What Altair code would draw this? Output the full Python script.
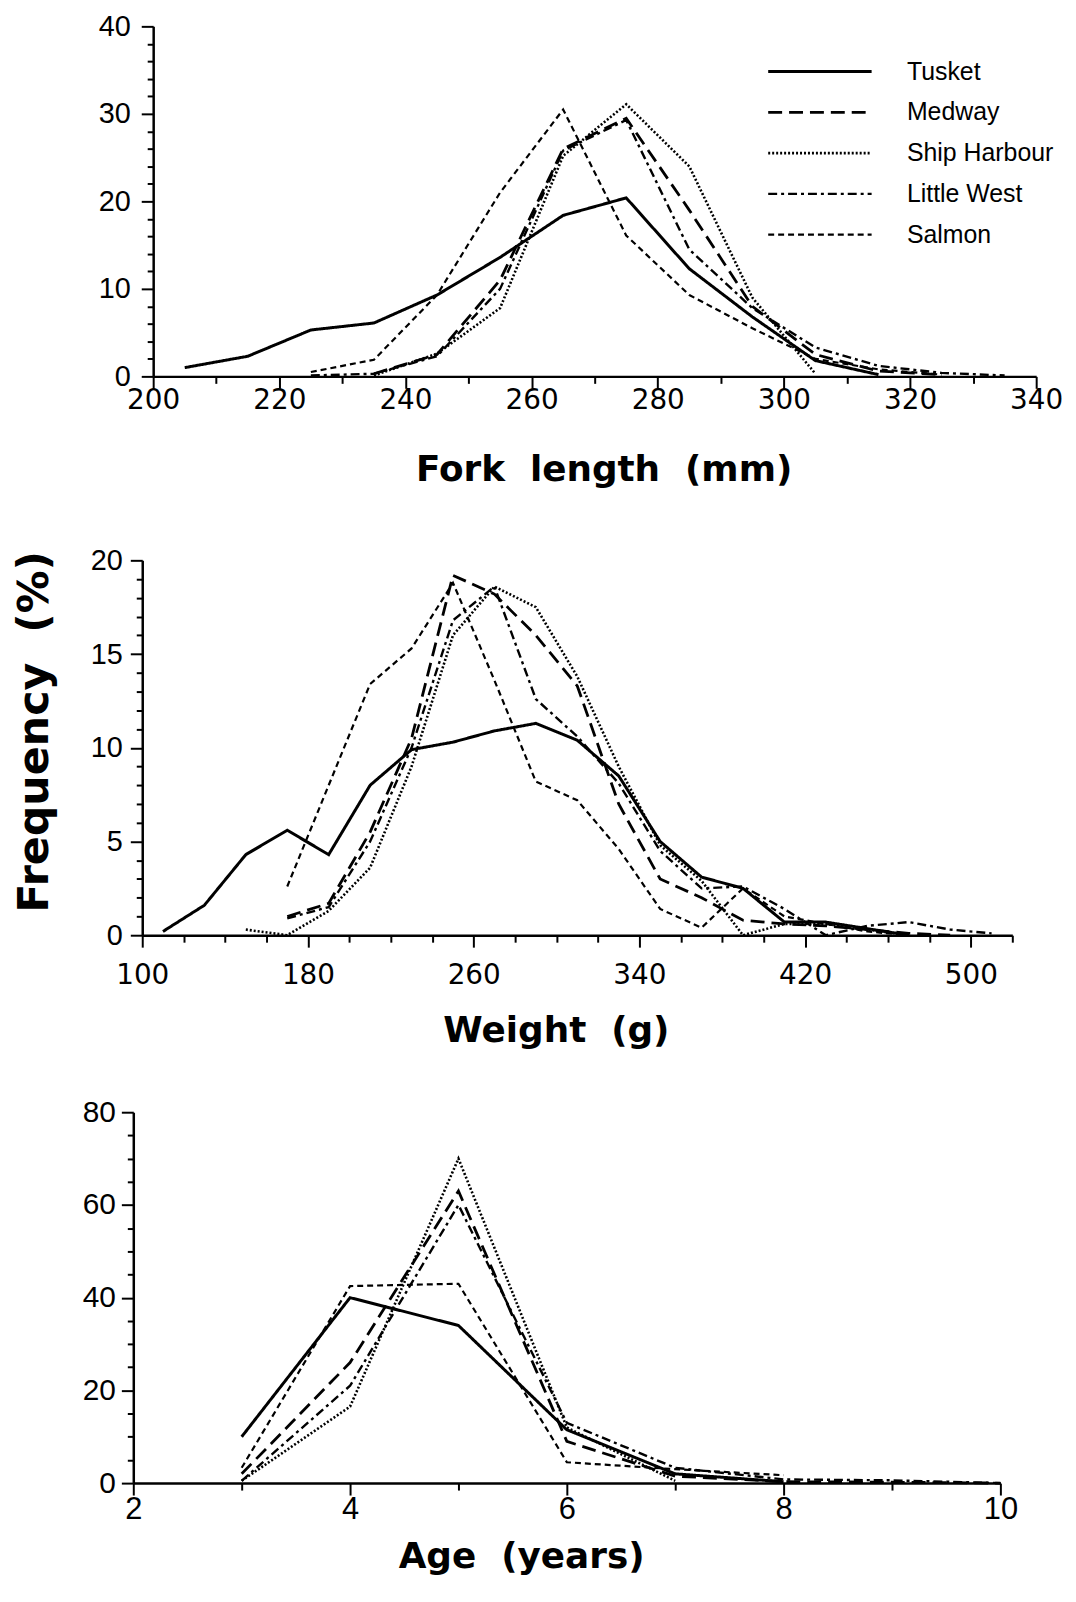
import altair as alt
import pandas as pd

rivers = ["Tusket", "Medway", "Ship Harbour", "Little West", "Salmon"]

# ---- Fork length (mm) ----
fl_bins = [205, 215, 225, 235, 245, 255, 265, 275, 285, 295, 305, 315, 325, 335]
fl_tusket = [1.0, 2.3, 5.3, 6.1, 9.3, 13.6, 18.4, 20.4, 12.3, 6.8, 1.8, 0.2, None, None]
fl_medway = [None, None, None, 0.3, 2.5, 11.0, 26.0, 29.5, 19.0, 8.0, 2.5, 0.6, 0.2, None]
fl_ship = [None, None, None, 0.1, 2.6, 7.8, 25.2, 31.1, 24.0, 9.0, 0.3, None, None, None]
fl_little = [None, None, 0.1, 0.3, 2.3, 10.0, 25.8, 29.3, 14.5, 7.8, 3.3, 1.2, 0.4, 0.1]
fl_salmon = [None, None, 0.5, 1.9, 9.3, 21.0, 30.5, 16.1, 9.3, 5.5, 2.0, 0.8, 0.2, None]

# ---- Weight (g) ----
w_bins = [110, 130, 150, 170, 190, 210, 230, 250, 270, 290, 310,
          330, 350, 370, 390, 410, 430, 450, 470, 490, 510]
w_tusket = [0.2, 1.6, 4.3, 5.6, 4.3, 8.0, 9.9, 10.3, 10.9, 11.3, 10.4,
            8.5, 5.0, 3.1, 2.5, 0.7, 0.7, 0.35, 0.0, None, None]
w_medway = [None, None, None, 1.0, 1.7, 5.5, 10.5, 19.2, 18.2, 16.0, 13.3,
            7.0, 3.0, 2.0, 0.8, 0.6, 0.5, 0.3, 0.1, 0.0, None]
w_ship = [None, None, 0.3, 0.0, 1.3, 3.6, 9.0, 16.0, 18.6, 17.5, 13.8,
          9.0, 4.8, 2.9, 0.0, 0.6, 0.6, 0.3, 0.0, None, None]
w_little = [None, None, None, 0.9, 1.5, 5.0, 10.0, 16.8, 18.6, 12.6, 10.6,
            8.1, 4.5, 2.5, 2.6, 1.4, 0.0, 0.5, 0.7, 0.3, 0.1]
w_salmon = [None, None, None, 2.6, 8.0, 13.4, 15.3, 18.8, 13.6, 8.2, 7.2,
            4.6, 1.4, 0.4, 2.5, 1.0, 0.6, 0.2, 0.0, None, None]

# ---- Age (years) ----
age_bins = [3, 4, 5, 6, 7, 8, 9, 10]
a_tusket = [10.0, 40.0, 34.0, 11.5, 2.0, 0.3, None, None]
a_medway = [2.0, 26.0, 63.0, 9.0, 1.5, 0.3, 0.2, 0.0]
a_ship = [0.5, 16.5, 70.0, 12.0, 0.5, None, None, None]
a_little = [0.5, 21.0, 60.0, 13.0, 3.3, 0.8, 0.6, 0.0]
a_salmon = [3.3, 42.5, 43.0, 4.5, 3.0, 1.7, None, None]

fl_ticks = list(range(200, 341, 10))
fl_yticks = list(range(0, 41, 2))
w_ticks = list(range(100, 521, 20))
w_yticks = list(range(0, 21, 1))
a_ticks = list(range(2, 11, 1))
a_yticks = list(range(0, 81, 5))

dash_range = [[1, 0], [14, 7], [2, 2], [9, 4, 3, 4], [6, 4]]
width_range = [3.0, 2.2, 1.6, 2.2, 2.4]


def long_df(bins, series):
    rows = []
    for river, vals in zip(rivers, series):
        for b, v in zip(bins, vals):
            if v is not None:
                rows.append({"bin": b, "freq": v, "river": river})
    return pd.DataFrame(rows)


def xaxis(values, major_test, title, tx, ty, font="DejaVu Sans", size=28, pad=14):
    return alt.Axis(
        values=values,
        labelExpr=f"({major_test}) ? datum.label : ''",
        tickSize={"condition": {"test": major_test, "value": 12}, "value": 7},
        labelFont=font, labelFontSize=size, labelPadding=pad,
        labelFlush=False, labelOverlap=False,
        domainWidth=2.5, tickWidth=2,
        title=title, titleFont="DejaVu Sans", titleFontWeight="bold",
        titleFontSize=36, titleBaseline="alphabetic", titleX=tx, titleY=ty,
    )


def yaxis(values, major_test, offset, title=None, size=29, pad=8, ty=0):
    if title is not None:
        kw = dict(title=title, titleFont="DejaVu Sans", titleFontWeight="bold",
                  titleFontSize=43, titleBaseline="alphabetic", titleX=-95,
                  titleY=ty)
    else:
        kw = dict(title=None)
    return alt.Axis(
        values=values, offset=offset,
        labelExpr=f"({major_test}) ? datum.label : ''",
        tickSize={"condition": {"test": major_test, "value": 12}, "value": 6},
        labelFont="Liberation Sans", labelFontSize=size, labelPadding=pad,
        labelOverlap=False, labelFlush=False,
        domainWidth=2.5, tickWidth=2, **kw,
    )


legend = alt.Legend(
    title=None, orient="none", legendX=678, legendY=33,
    symbolType="M-5.2,0H5.2", symbolSize=400, symbolStrokeColor="black",
    symbolFillColor="transparent", labelFont="Liberation Sans",
    labelFontSize=25, labelColor="black", labelOffset=75, rowPadding=15,
)

VIEW_W = 908


def panel(df, xax, yax, xdom, ydom, xrange, h, yrange, leg=None):
    return alt.Chart(df).mark_line(color="black").encode(
        x=alt.X("bin:Q", scale=alt.Scale(domain=xdom, range=xrange, nice=False, zero=False), axis=xax),
        y=alt.Y("freq:Q", scale=alt.Scale(domain=ydom, range=yrange, nice=False), axis=yax),
        strokeDash=alt.StrokeDash("river:N", scale=alt.Scale(domain=rivers, range=dash_range), legend=leg),
        strokeWidth=alt.StrokeWidth("river:N", scale=alt.Scale(domain=rivers, range=width_range), legend=leg),
    ).properties(width=VIEW_W, height=h)


top = panel(
    long_df(fl_bins, [fl_tusket, fl_medway, fl_ship, fl_little, fl_salmon]),
    xaxis(fl_ticks, "datum.value % 20 === 0", "Fork\u00a0\u00a0length\u00a0\u00a0(mm)", 473, 105, pad=-2),
    yaxis(fl_yticks, "datum.value % 10 === 0", -20, pad=11),
    [200, 340], [0, 40], [20, 908], 352, [352, 0], legend,
)

mid = panel(
    long_df(w_bins, [w_tusket, w_medway, w_ship, w_little, w_salmon]),
    xaxis(w_ticks, "(datum.value - 100) % 80 === 0", "Weight\u00a0\u00a0(g)", 425, 107, pad=15),
    yaxis(w_yticks, "datum.value % 5 === 0", -9, "Frequency\u00a0\u00a0(%)", ty=182),
    [100, 520], [0, 20], [9, 884], 387, [387, 10],
)

bot = panel(
    long_df(age_bins, [a_tusket, a_medway, a_ship, a_little, a_salmon]),
    xaxis(a_ticks, "datum.value % 2 === 0", "Age\u00a0\u00a0(years)", 390, 85,
          font="Liberation Sans", size=31, pad=0),
    yaxis(a_yticks, "datum.value % 20 === 0", 0, size=30, pad=6),
    [2, 10], [0, 80], [0, 872], 376, [376, 3],
)

chart = alt.vconcat(top, mid, bot, spacing=175, bounds="flush").resolve_scale(
    strokeDash="independent", strokeWidth="independent"
).properties(
    padding={"left": 5, "top": 0, "right": 5, "bottom": 5},
    background="white",
).configure_view(stroke=None).configure_axis(
    grid=False, domainColor="black", tickColor="black",
    labelColor="black", titleColor="black",
)

chart.save("out.html", embed_options={"renderer": "svg", "actions": False})
